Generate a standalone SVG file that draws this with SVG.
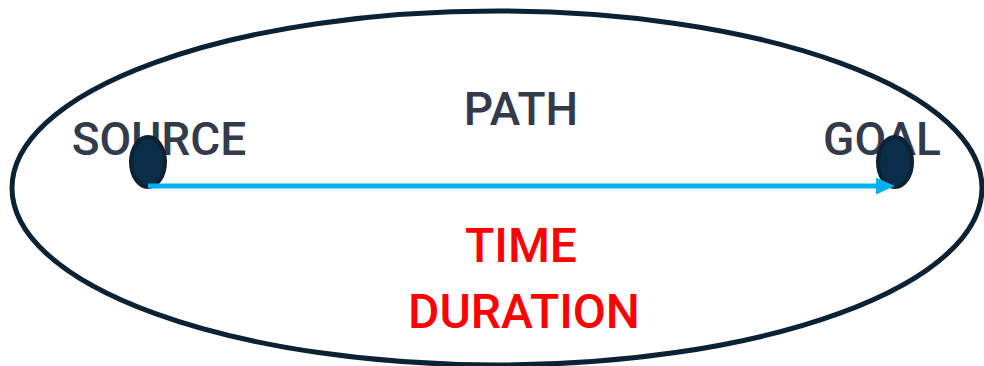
<svg xmlns="http://www.w3.org/2000/svg" width="984" height="366" viewBox="0 0 984 366">
<defs>
<style>
.lbl{font-family:Roboto,"Liberation Sans",sans-serif;font-size:46px;font-weight:500;fill:#333a4c}
.red{font-family:Roboto,"Liberation Sans",sans-serif;font-size:48px;font-weight:500;fill:#ff0000}
.node{fill:#0b2e48;stroke:#0a2233;stroke-width:4}
</style>
<marker id="ah" markerWidth="4" markerHeight="4" refX="0.2" refY="1.7" orient="auto" markerUnits="strokeWidth">
<path d="M0,0 L3.8,1.7 L0,3.4 Z" fill="#00b0f0"/>
</marker>
</defs>
<rect width="984" height="366" fill="#ffffff"/>
<g id="boundary">
<ellipse cx="497" cy="188" rx="485" ry="177" fill="none" stroke="#0a2233" stroke-width="5"/>
</g>
<g id="labels">
<text class="lbl" x="521" y="125" text-anchor="middle">PATH</text>
<text class="red" x="521" y="262" text-anchor="middle">TIME</text>
<text class="red" x="524" y="328" text-anchor="middle">DURATION</text>
</g>
<g id="source">
<text class="lbl" x="159" y="155" text-anchor="middle">SOURCE</text>
<ellipse class="node" cx="148" cy="162" rx="17" ry="25"/>
</g>
<g id="goal">
<text class="lbl" x="882" y="155" text-anchor="middle">GOAL</text>
<ellipse class="node" cx="895" cy="162" rx="17" ry="25"/>
</g>
<g id="connectors">
<line x1="148" y1="186" x2="877" y2="186" stroke="#00b0f0" stroke-width="5" marker-end="url(#ah)"/>
</g>
</svg>
